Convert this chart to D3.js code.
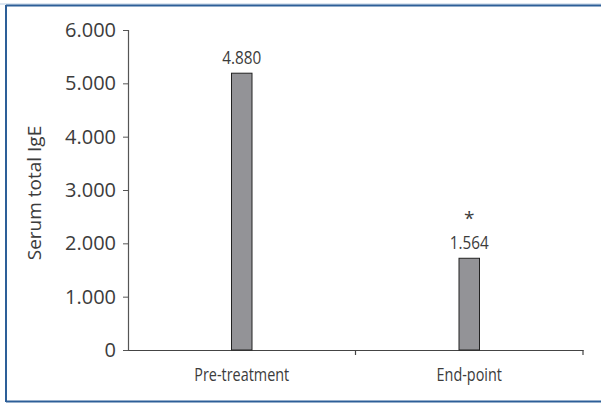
<!DOCTYPE html>
<html><head><meta charset="utf-8">
<script src="https://cdn.jsdelivr.net/npm/d3@7"></script>
<style>
html,body{margin:0;padding:0;background:#fff;}
svg{display:block;font-family:"Open Sans",sans-serif;}
</style></head>
<body>
<svg id="c" width="601" height="404"></svg>
<script>
const categories = ["Pre-treatment", "End-point"];
const values = [5.19, 1.72];
const valueLabels = ["4.880", "1.564"];
const significance = ["", "*"];
const yTicks = [0, 1, 2, 3, 4, 5, 6];
const yTickLabels = ["0", "1.000", "2.000", "3.000", "4.000", "5.000", "6.000"];
const yTitle = "Serum total IgE";

(function () {
const svg = d3.select("#c");
const mLeft = 128, mRight = 583, mTop = 30, mBottom = 350;
const txt = "#3c3c3c";

function condense(sel, f) {
  sel.each(function () {
    const w = this.getComputedTextLength();
    d3.select(this).attr("textLength", w * f).attr("lengthAdjust", "spacingAndGlyphs");
  });
}

// frame
svg.append("line").attr("x1", 0).attr("x2", 601).attr("y1", 4).attr("y2", 4).attr("stroke", "#b9cde2").attr("stroke-width", 1);
svg.append("line").attr("x1", 6).attr("x2", 601).attr("y1", 5.5).attr("y2", 5.5).attr("stroke", "#2d5f98").attr("stroke-width", 2);
svg.append("line").attr("x1", 6).attr("x2", 6).attr("y1", 5).attr("y2", 402).attr("stroke", "#2d5f98").attr("stroke-width", 2);
svg.append("line").attr("x1", 6).attr("x2", 601).attr("y1", 401.5).attr("y2", 401.5).attr("stroke", "#2d5f98").attr("stroke-width", 2);

const y = d3.scaleLinear().domain([0, 6]).range([mBottom, mTop]);
const x = d3.scaleBand().domain(categories).range([mLeft, mRight]).padding(0);
const barW = 20.5;

// y axis
const yAxis = svg.append("g").attr("transform", `translate(${mLeft},0)`)
  .call(d3.axisLeft(y).tickValues(yTicks).tickSize(5).tickPadding(7)
    .tickFormat((d, i) => yTickLabels[i]));
yAxis.select(".domain").attr("stroke", "#555").attr("stroke-width", 1.2);
yAxis.selectAll(".tick line").attr("stroke", "#555");
yAxis.selectAll(".tick text").attr("font-size", 20).attr("fill", txt)
  .attr("font-family", "Open Sans").attr("font-weight", 400);

// x axis
const xAxis = svg.append("g").attr("transform", `translate(0,${mBottom})`)
  .call(d3.axisBottom(x).tickSize(0).tickPadding(18));
xAxis.select(".domain").attr("stroke", "#444").attr("stroke-width", 1.2);
xAxis.selectAll(".tick text").attr("font-size", 18).attr("fill", txt)
  .attr("font-family", "Open Sans").attr("font-weight", 400).call(condense, 0.8);
const bounds = categories.map(c => x(c) + x.bandwidth());
xAxis.selectAll(".btick").data(bounds).join("line")
  .attr("x1", d => d).attr("x2", d => d).attr("y1", 0).attr("y2", 5)
  .attr("stroke", "#444").attr("stroke-width", 1.2);

// bars
svg.selectAll(".bar").data(categories).join("rect")
  .attr("x", d => x(d) + x.bandwidth() / 2 - barW / 2)
  .attr("width", barW)
  .attr("y", (d, i) => y(values[i]))
  .attr("height", (d, i) => mBottom - y(values[i]))
  .attr("fill", "#939397").attr("stroke", "#222").attr("stroke-width", 1);

// value labels
svg.selectAll(".vl").data(categories).join("text")
  .attr("x", d => x(d) + x.bandwidth() / 2)
  .attr("y", (d, i) => y(values[i]) - 9)
  .attr("text-anchor", "middle").attr("font-size", 18).attr("font-weight", 400).attr("fill", txt)
  .text((d, i) => valueLabels[i]).call(condense, 0.85);

svg.selectAll(".sig").data(categories).join("text")
  .attr("x", d => x(d) + x.bandwidth() / 2)
  .attr("y", (d, i) => y(values[i]) - 33)
  .attr("text-anchor", "middle").attr("font-size", 19).attr("font-weight", 400).attr("fill", txt)
  .text((d, i) => significance[i]);

// y title
svg.append("text").attr("transform", `translate(41,193) rotate(-90)`)
  .attr("text-anchor", "middle").attr("font-size", 19).attr("font-weight", 400).attr("fill", txt)
  .text(yTitle);
})();
</script>
</body></html>
